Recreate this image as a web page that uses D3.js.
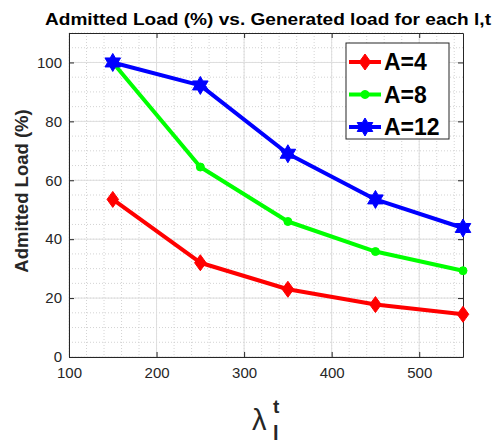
<!DOCTYPE html>
<html>
<head>
<meta charset="utf-8">
<script src="https://d3js.org/d3.v7.min.js"></script>
<style>
  body { margin: 0; background: #fff; }
  text { font-family: "Liberation Sans", Arial, sans-serif; }
</style>
</head>
<body>
<div id="chart"></div>
<script>
// data
var loads = [150, 250, 350, 450, 550];
var seriesNames = ['A=4', 'A=8', 'A=12'];
var admitA4 = [53.5, 32.0, 23.0, 17.8, 14.5];
var admitA8 = [100, 64.5, 46.0, 35.8, 29.3];
var admitA12 = [100, 92.2, 69.0, 53.5, 43.8];
var xTicks = [100, 200, 300, 400, 500];
var yTicks = [0, 20, 40, 60, 80, 100];

var width = 495, height = 443;
var margin = { top: 33, right: 32, bottom: 86, left: 69 };
var w = width - margin.left - margin.right,
    h = height - margin.top - margin.bottom;

var svg = d3.select('#chart').append('svg')
    .attr('width', width).attr('height', height);

var x = d3.scaleLinear().domain([100, 550]).range([0, w]);
var y = d3.scaleLinear().domain([0, 110]).range([h, 0]);

var g = svg.append('g').attr('transform', 'translate(' + margin.left + ',' + margin.top + ')');

// minor grid
g.append('g').selectAll('line').data(d3.range(100, 551, 20))
    .enter().append('line')
    .attr('x1', d => x(d)).attr('x2', d => x(d)).attr('y1', 0).attr('y2', h)
    .attr('stroke', '#c8c8c8').attr('stroke-width', 0.8).attr('stroke-dasharray', '1,2');
g.append('g').selectAll('line').data(d3.range(0, 111, 5))
    .enter().append('line')
    .attr('y1', d => y(d)).attr('y2', d => y(d)).attr('x1', 0).attr('x2', w)
    .attr('stroke', '#c8c8c8').attr('stroke-width', 0.8).attr('stroke-dasharray', '1,2');

// major grid
g.append('g').selectAll('line').data(xTicks)
    .enter().append('line')
    .attr('x1', d => x(d)).attr('x2', d => x(d)).attr('y1', 0).attr('y2', h)
    .attr('stroke', '#dedede').attr('stroke-width', 1);
g.append('g').selectAll('line').data(yTicks)
    .enter().append('line')
    .attr('y1', d => y(d)).attr('y2', d => y(d)).attr('x1', 0).attr('x2', w)
    .attr('stroke', '#dedede').attr('stroke-width', 1);

// axes (ticks inward, box on)
function styleAxis(sel) {
    sel.select('.domain').attr('stroke', '#262626');
    sel.selectAll('.tick line').attr('stroke', '#262626');
    sel.selectAll('.tick text').attr('fill', '#262626')
        .style('font-size', '15px').style('font-family', '"Liberation Sans", Arial, sans-serif');
}
var xAxis = g.append('g').attr('transform', 'translate(0,' + h + ')')
    .call(d3.axisBottom(x).tickValues(xTicks).tickSizeInner(-5).tickSizeOuter(0).tickPadding(10));
styleAxis(xAxis);
var yAxis = g.append('g')
    .call(d3.axisLeft(y).tickValues(yTicks).tickSizeInner(-5).tickSizeOuter(0).tickPadding(7));
styleAxis(yAxis);
g.append('g').call(d3.axisTop(x).tickValues(xTicks).tickSizeInner(-5).tickSizeOuter(0).tickFormat(''))
    .call(styleAxis);
g.append('g').attr('transform', 'translate(' + w + ',0)')
    .call(d3.axisRight(y).tickValues(yTicks).tickSizeInner(-5).tickSizeOuter(0).tickFormat(''))
    .call(styleAxis);

// hexagram marker
function hexagram(r) {
    var pts = [];
    for (var i = 0; i < 12; i++) {
        var a = -Math.PI / 2 + i * Math.PI / 6;
        var rr = (i % 2 === 0) ? r : r * 0.577;
        pts.push([rr * Math.cos(a), rr * Math.sin(a)]);
    }
    return 'M' + pts.map(p => p.join(',')).join('L') + 'Z';
}
function diamond(r) {
    return 'M0,' + (-r) + 'L' + (r * 0.72) + ',0L0,' + r + 'L' + (-r * 0.72) + ',0Z';
}
function circle(r) {
    return d3.symbol().type(d3.symbolCircle).size(Math.PI * r * r)();
}

var series = [
    { name: seriesNames[0], values: admitA4, color: '#ff0000', marker: diamond(8) },
    { name: seriesNames[1], values: admitA8, color: '#00ff00', marker: circle(4) },
    { name: seriesNames[2], values: admitA12, color: '#0000ff', marker: hexagram(9) }
];

var line = d3.line().x((d, i) => x(loads[i])).y(d => y(d));

series.forEach(function (s) {
    g.append('path').datum(s.values)
        .attr('d', line).attr('fill', 'none')
        .attr('stroke', s.color).attr('stroke-width', 4).attr('stroke-linejoin', 'round');
    g.selectAll(null).data(s.values).enter().append('path')
        .attr('d', s.marker)
        .attr('transform', (d, i) => 'translate(' + x(loads[i]) + ',' + y(d) + ')')
        .attr('fill', s.color).attr('stroke', s.color).attr('stroke-width', 1);
});

// legend
var lg = svg.append('g').attr('transform', 'translate(346,43)');
lg.append('rect').attr('width', 103).attr('height', 96)
    .attr('fill', '#fff').attr('stroke', '#262626').attr('stroke-width', 1);
series.forEach(function (s, i) {
    var yy = 19 + i * 32.5;
    lg.append('line').attr('x1', 3).attr('x2', 35).attr('y1', yy).attr('y2', yy)
        .attr('stroke', s.color).attr('stroke-width', 4);
    lg.append('path').attr('d', s.marker).attr('transform', 'translate(19,' + yy + ')')
        .attr('fill', s.color).attr('stroke', s.color);
    lg.append('text').attr('x', 38).attr('y', yy + 8).text(s.name)
        .style('font-size', '23px').style('font-weight', 'bold').attr('fill', '#000');
});

// title
svg.append('text').attr('x', 268).attr('y', 25).attr('text-anchor', 'middle')
    .style('font-size', '17px').style('font-weight', 'bold')
    .attr('textLength', 446).attr('lengthAdjust', 'spacingAndGlyphs')
    .text('Admitted Load (%) vs. Generated load for each l,t');

// y label
svg.append('text').attr('transform', 'translate(28,191) rotate(-90)')
    .attr('text-anchor', 'middle').style('font-size', '18.5px').style('font-weight', 'bold')
    .attr('fill', '#262626').text('Admitted Load (%)');

// x label: lambda with sub l and sup t
svg.append('text').attr('x', 252).attr('y', 430).attr('fill', '#262626')
    .style('font-size', '29px').text('λ');
svg.append('text').attr('x', 273).attr('y', 413).style('font-size', '19px')
    .style('font-weight', 'bold').attr('fill', '#262626').text('t');
svg.append('text').attr('x', 273).attr('y', 440).style('font-size', '20px')
    .style('font-weight', 'bold').attr('fill', '#262626').text('l');
</script>
</body>
</html>
